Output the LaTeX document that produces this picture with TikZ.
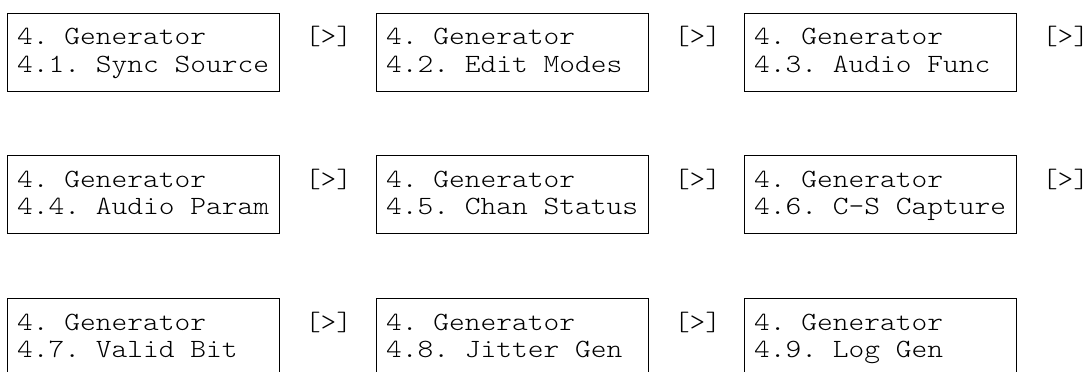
\documentclass[tikz,border=0pt]{standalone}
\usepackage{fontspec}
\setmonofont{Latin Modern Mono Light}[FakeStretch=1.14]
\begin{document}
\begin{tikzpicture}[x=1pt,y=1pt,
  screen/.style={draw=black, line width=0.8pt, minimum width=272pt, minimum height=78pt, anchor=north west, inner sep=0pt},
  lcd/.style={anchor=base west, inner sep=0pt, font=\ttfamily\fontsize{26.3}{27}\selectfont},
  nextmark/.style={lcd}]
\useasboundingbox (0,0) rectangle (1088,-372);
\clip (0,0) rectangle (1088,-372);
\foreach \name/\cx/\ry/\lab in {
  a/7/13/4.1. Sync Source,
  b/376/13/4.2. Edit Modes,
  c/744/13/4.3. Audio Func,
  d/7/155/4.4. Audio Param,
  e/376/155/4.5. Chan Status,
  f/744/155/4.6. C-S Capture,
  g/7/298/4.7. Valid Bit,
  h/376/298/4.8. Jitter Gen,
  k/744/298/4.9. Log Gen}{
  \node[screen] (box\name) at (\cx,-\ry) {};
  \node[lcd] (top\name) at ([xshift=10pt,yshift=-32pt]box\name.north west) {4. Generator};
  \node[lcd] (sub\name) at ([xshift=10pt,yshift=-59pt]box\name.north west) {\lab};
}
\foreach \name in {a,b,c,d,e,f,g,h}{
  \node[nextmark] (nx\name) at ([xshift=25pt,yshift=-32pt]box\name.north east) {[>]};
}
\end{tikzpicture}
\end{document}
